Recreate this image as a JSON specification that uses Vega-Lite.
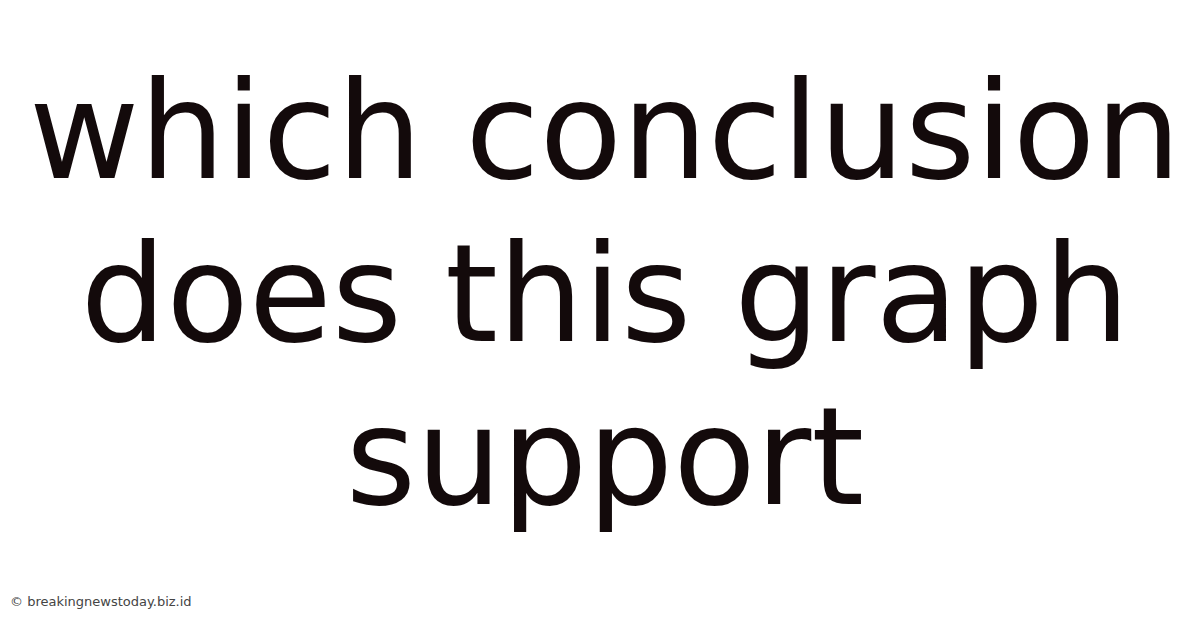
{
  "$schema": "https://vega.github.io/schema/vega-lite/v6.json",
  "width": 1200,
  "height": 628,
  "padding": 0,
  "autosize": {"type": "none"},
  "background": "#ffffff",
  "config": {"view": {"stroke": null}},
  "title": {
    "text": "© breakingnewstoday.biz.id",
    "orient": "bottom",
    "anchor": "start",
    "frame": "group",
    "offset": -32,
    "dx": 10,
    "font": "DejaVu Sans",
    "fontSize": 13,
    "fontWeight": "normal",
    "color": "#444444"
  },
  "data": {
    "values": [
      {"line": 1, "text": "which conclusion"},
      {"line": 2, "text": "does this graph"},
      {"line": 3, "text": "support"}
    ]
  },
  "mark": {
    "type": "text",
    "font": "DejaVu Sans",
    "fontSize": 135,
    "align": "center",
    "baseline": "alphabetic",
    "dx": 5,
    "color": "#130a0b"
  },
  "encoding": {
    "y": {
      "field": "line",
      "type": "quantitative",
      "axis": null,
      "scale": {"domain": [3.761, -0.092], "nice": false, "zero": false}
    },
    "text": {"field": "text", "type": "nominal"}
  }
}
